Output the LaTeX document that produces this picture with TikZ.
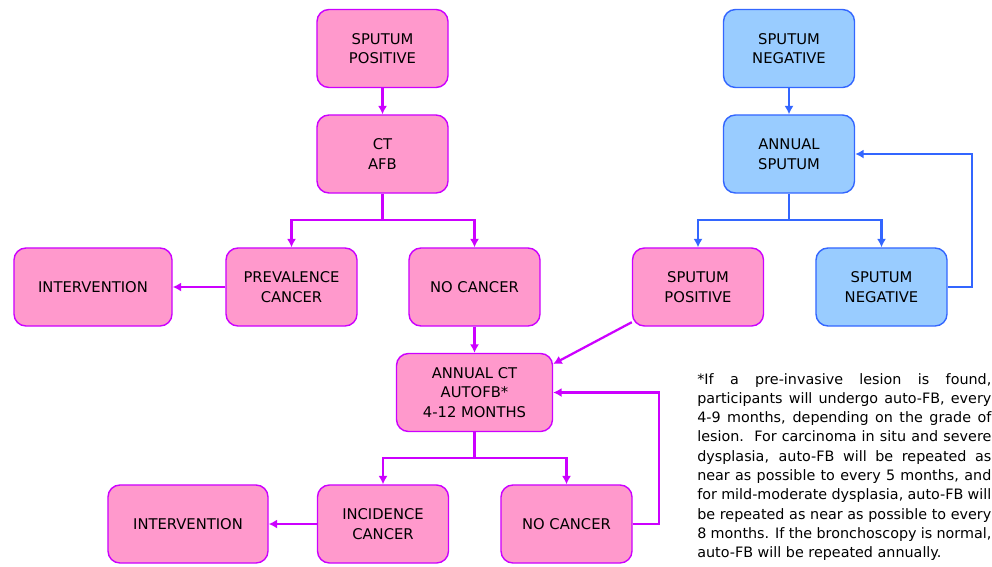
\documentclass[tikz,border=0pt]{standalone}
\usepackage{fontspec}
\setmainfont{DejaVu Sans}
\usetikzlibrary{arrows.meta}
\definecolor{boxpink}{HTML}{FF99CC}
\definecolor{linepurple}{HTML}{CC00FF}
\definecolor{boxblue}{HTML}{99CCFF}
\definecolor{lineblue}{HTML}{3366FF}
\begin{document}
\begin{tikzpicture}[x=0.025cm, y=-0.025cm,
        pbox/.style={rectangle, draw=linepurple, fill=boxpink, line width=1pt, rounded corners=0.3cm, minimum width=3.275cm, minimum height=1.95cm, align=center, font=\fontsize{10.5}{14}\selectfont},
        bbox/.style={pbox, draw=lineblue, fill=boxblue},
        parrow/.style={->, >={Latex[length=6pt,width=6.5pt]}, line width=1.6pt, draw=linepurple},
        barrow/.style={parrow, draw=lineblue},
        note/.style={text width=7.35cm, align=justify, inner sep=0pt, font=\fontsize{10.2}{13.7}\selectfont}
    ]
        \useasboundingbox (0,0) rectangle (992,566);

        % Sputum positive branch
        \node[pbox] (spos) at (382.5,48.5) {SPUTUM\\POSITIVE};
        \node[pbox] (ctafb) at (382.5,154) {CT\\AFB};
        \node[pbox, minimum width=3.95cm] (interv1) at (93,287) {INTERVENTION};
        \node[pbox] (prev) at (291.5,287) {PREVALENCE\\CANCER};
        \node[pbox] (nocan1) at (474.5,287) {NO CANCER};

        % Sputum negative branch
        \node[bbox] (sneg) at (789,48.5) {SPUTUM\\NEGATIVE};
        \node[bbox] (annsp) at (789,154) {ANNUAL\\SPUTUM};
        \node[pbox] (spos2) at (698,287) {SPUTUM\\POSITIVE};
        \node[bbox] (sneg2) at (881.5,287) {SPUTUM\\NEGATIVE};

        % Annual follow-up
        \node[pbox, minimum width=3.9cm] (annct) at (474.5,392.5) {ANNUAL CT\\AUTOFB*\\4-12 MONTHS};
        \node[pbox, minimum width=4cm] (interv2) at (188,524) {INTERVENTION};
        \node[pbox] (incid) at (383,524) {INCIDENCE\\CANCER};
        \node[pbox] (nocan2) at (566.5,524) {NO CANCER};

        % Split and loop points
        \coordinate (split1) at (382.5,220);
        \coordinate (split2) at (474.5,458);
        \coordinate (split3) at (789,220);
        \coordinate (loop1) at (659,524);
        \coordinate (loop2) at (972,287);

        % Connect pink boxes
        \draw[parrow] (spos) -- (ctafb);
        \draw[parrow] (ctafb) -- (split1) -| (prev);
        \draw[parrow] (split1) -| (nocan1);
        \draw[parrow] (prev) -- (interv1);
        \draw[parrow] (nocan1) -- (annct);
        \draw[parrow] (spos2.208) -- ([yshift=-0.28cm]annct.north east);
        \draw[parrow] (annct) -- (split2) -| (incid);
        \draw[parrow] (split2) -| (nocan2);
        \draw[parrow] (incid) -- (interv2);
        \draw[parrow] (nocan2) -- (loop1) |- (annct);

        % Connect blue boxes
        \draw[barrow] (sneg) -- (annsp);
        \draw[barrow] (annsp) -- (split3) -| (spos2);
        \draw[barrow] (split3) -| (sneg2);
        \draw[barrow] (sneg2) -- (loop2) |- (annsp);

        % Footnote
        \node[note, anchor=north west] (fnote) at (697,373) {*If a pre-invasive lesion is found,\linebreak
participants will undergo auto-FB, every\linebreak
4-9 months, depending on the grade of\linebreak
lesion.\ \ For carcinoma in situ and severe\linebreak
dysplasia, auto-FB will be repeated as\linebreak
near as possible to every 5 months, and\linebreak
for mild-moderate dysplasia, auto-FB will\linebreak
be repeated as near as possible to every\linebreak
8 months. If the bronchoscopy is normal,\linebreak
auto-FB will be repeated annually.};
    \end{tikzpicture}
\end{document}
